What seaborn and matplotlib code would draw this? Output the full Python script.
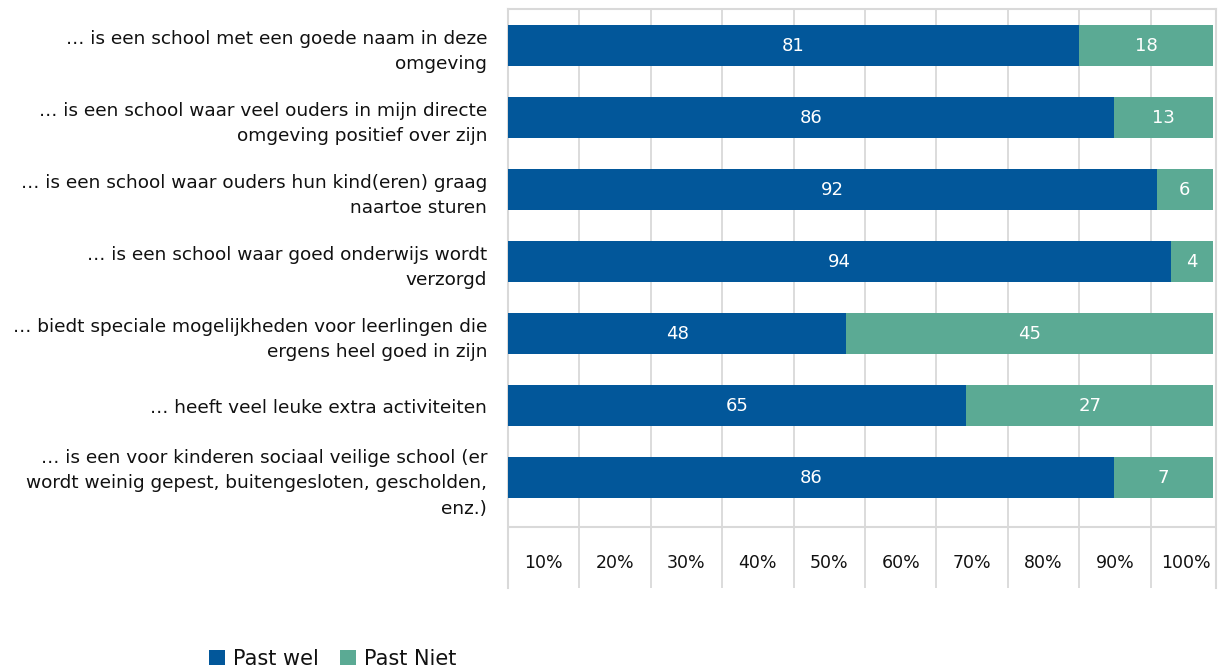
import matplotlib
matplotlib.use("Agg")
import matplotlib.pyplot as plt
from matplotlib.patches import Patch
import numpy as np
import pandas as pd
import seaborn as sns

# ---- data ----
stellingen = [
    "… is een school met een goede naam in deze\nomgeving",
    "… is een school waar veel ouders in mijn directe\nomgeving positief over zijn",
    "… is een school waar ouders hun kind(eren) graag\nnaartoe sturen",
    "… is een school waar goed onderwijs wordt\nverzorgd",
    "… biedt speciale mogelijkheden voor leerlingen die\nergens heel goed in zijn",
    "… heeft veel leuke extra activiteiten",
    "… is een voor kinderen sociaal veilige school (er\nwordt weinig gepest, buitengesloten, gescholden,\nenz.)",
]
past_wel = [81, 86, 92, 94, 48, 65, 86]
past_niet = [18, 13, 6, 4, 45, 27, 7]
totaal = [100, 100, 100, 100, 100, 100, 100]
tick_labels = ["10%", "20%", "30%", "40%", "50%", "60%", "70%", "80%", "90%", "100%"]
series_names = ["Past wel", "Past Niet"]

BLUE = "#02579A"
GREEN = "#5BAA94"
GRID = "#D9D9D9"
TXT = "#111111"

sns.set_style("white")
plt.rcParams["font.family"] = ["DejaVu Sans"]

df = pd.DataFrame({"stelling": stellingen, "wel": past_wel,
                   "niet": past_niet, "totaal": totaal})

W, H = 1220, 672
fig = plt.figure(figsize=(W / 100, H / 100), dpi=100)

# background "table" grid (cells of the percentage row)
axg = fig.add_axes([508 / W, 1 - 588 / H, 708 / W, 579 / H], zorder=0)
axg.set_xlim(0, 708 / 71.4 * 10)
axg.set_ylim(0, 1)
axg.set_yticks([])
axg.set_xticks(range(10, 100, 10))
axg.set_xticklabels([])
axg.xaxis.grid(True, color=GRID, lw=1.3)
axg.set_xticks(np.arange(5, 100, 10), minor=True)
axg.set_xticklabels(tick_labels, minor=True)
axg.tick_params(axis="x", which="both", length=0)
axg.tick_params(axis="x", which="minor", pad=-24.5, labelsize=12.5, labelcolor=TXT)
axg.axhline((588 - 527) / 579, color=GRID, lw=1.5)
for k, s in axg.spines.items():
    s.set_color(GRID)
    s.set_linewidth(1.5)
    s.set_visible(k != "bottom")

# main bar axes
ax = fig.add_axes([508 / W, 1 - 527 / H, 705 / W, 518 / H], zorder=1)
ax.patch.set_alpha(0)

bw = 41 / 72
sns.barplot(data=df, y="stelling", x="totaal", color=GREEN, saturation=1,
            width=bw, orient="h", ax=ax, edgecolor="none", linewidth=0)
sns.barplot(data=df, y="stelling", x="wel", color=BLUE, saturation=1,
            width=bw, orient="h", ax=ax, edgecolor="none", linewidth=0)

ax.bar_label(ax.containers[1], labels=[str(v) for v in past_wel],
             label_type="center", color="white", fontsize=13)
for i, (w, n, t) in enumerate(zip(past_wel, past_niet, totaal)):
    ax.text((w + t) / 2, i, str(n), ha="center", va="center",
            color="white", fontsize=13)

ax.set_xlim(0, 100)
ax.set_ylim(6.6875, -0.507)
ax.grid(False)
ax.set_xticks([])
ax.tick_params(axis="y", length=0, pad=15, labelsize=13.3, labelcolor=TXT)
for t in ax.get_yticklabels():
    t.set_linespacing(1.55)
ax.set_xlabel("")
ax.set_ylabel("")
for s in ax.spines.values():
    s.set_visible(False)

handles = [Patch(facecolor=BLUE, edgecolor="none"), Patch(facecolor=GREEN, edgecolor="none")]
fig.legend(handles, series_names, loc="center left",
           bbox_to_anchor=(201 / W, 1 - 659 / H), ncol=2, frameon=False,
           fontsize=15, handlelength=0.75, handleheight=0.75, handletextpad=0.4,
           columnspacing=1.0, borderaxespad=0, labelcolor=TXT)

fig.savefig("out.png", dpi=100)
